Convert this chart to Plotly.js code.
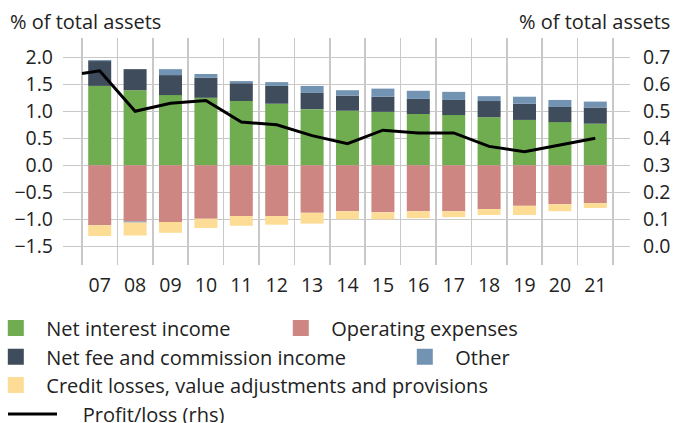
<!DOCTYPE html>
<html>
<head>
<meta charset="utf-8">
<script src="https://cdn.plot.ly/plotly-3.0.1.min.js"></script>
<style>html,body{margin:0;padding:0;background:#fff;}#chart{width:675px;height:423px;}</style>
</head>
<body>
<div id="chart"></div>
<script>
// ---- data ----
const years = [2007, 2008, 2009, 2010, 2011, 2012, 2013, 2014, 2015, 2016, 2017, 2018, 2019, 2020, 2021];
const tickLabels = ["07", "08", "09", "10", "11", "12", "13", "14", "15", "16", "17", "18", "19", "20", "21"];
const netInterest = [1.47, 1.39, 1.30, 1.25, 1.19, 1.14, 1.04, 1.01, 0.99, 0.95, 0.93, 0.89, 0.84, 0.80, 0.77];
const netFee      = [0.46, 0.39, 0.37, 0.37, 0.33, 0.33, 0.30, 0.28, 0.28, 0.28, 0.28, 0.30, 0.30, 0.28, 0.30];
const other       = [0.02, -0.02, 0.11, 0.07, 0.04, 0.07, 0.13, 0.10, 0.15, 0.15, 0.15, 0.09, 0.13, 0.13, 0.11];
const operating   = [-1.11, -1.04, -1.05, -0.99, -0.94, -0.94, -0.88, -0.85, -0.87, -0.85, -0.85, -0.81, -0.75, -0.72, -0.70];
const credit      = [-0.20, -0.24, -0.20, -0.17, -0.18, -0.16, -0.20, -0.15, -0.13, -0.13, -0.11, -0.11, -0.17, -0.13, -0.09];
const profit      = [0.65, 0.50, 0.53, 0.54, 0.46, 0.45, 0.41, 0.38, 0.43, 0.42, 0.42, 0.37, 0.35, 0.375, 0.40];
const profitLead  = 0.64;   // value where the line enters at the left edge of the first year
const leftTicks  = [-1.5, -1.0, -0.5, 0.0, 0.5, 1.0, 1.5, 2.0];
const rightTicks = [0.0, 0.1, 0.2, 0.3, 0.4, 0.5, 0.6, 0.7];

const names = {
  ni: "Net interest income",
  op: "Operating expenses",
  fee: "Net fee and commission income",
  oth: "Other",
  cr: "Credit losses, value adjustments and provisions",
  pl: "Profit/loss (rhs)"
};
const colors = {
  ni: "#70ad51", fee: "#3f4c5b", oth: "#7293b2", op: "#cd8681", cr: "#fddd96", pl: "#000000"
};

const FONT = "Open Sans, sans-serif";
const TXT = "#222222";
const FS = 20;      // legend / titles
const FT = 19.5;    // tick labels

function bar(y, c) {
  return {type: "bar", x: years, y: y, marker: {color: c, line: {width: 0}},
          width: 0.65, showlegend: false, hoverinfo: "skip"};
}
function proxy(name, c, legend, lw) {
  const t = {type: "scatter", mode: "markers", x: [null], y: [null], name: name,
             marker: {symbol: "square", size: 16, color: c, line: {width: 0}},
             legend: legend, showlegend: true, hoverinfo: "skip"};
  if (lw) t.legendwidth = lw;
  return t;
}

const data = [
  bar(netInterest, colors.ni),
  bar(netFee, colors.fee),
  bar(operating, colors.op),
  bar(other, colors.oth),
  bar(credit, colors.cr),
  {type: "scatter", mode: "lines", x: [years[0] - 0.5].concat(years), y: [profitLead].concat(profit),
   yaxis: "y2", line: {color: colors.pl, width: 3}, showlegend: false, hoverinfo: "skip"},
  proxy(names.ni, colors.ni, "legend", 219),
  proxy(names.op, colors.op, "legend"),
  proxy(names.fee, colors.fee, "legend2", 343),
  proxy(names.oth, colors.oth, "legend2"),
  proxy(names.cr, colors.cr, "legend3"),
  {type: "scatter", mode: "lines", x: [null], y: [null], name: "\u00a0\u00a0\u00a0\u00a0" + names.pl,
   line: {color: colors.pl, width: 3}, legend: "legend4", showlegend: true, hoverinfo: "skip"}
];

const W = 675, H = 423, ML = 63, MR = 45, MT = 38, MB = 158;
const PW = W - ML - MR, PH = H - MT - MB;
const px2x = p => (p - ML) / PW;
const py2y = p => (H - MB - p) / PH;

function legendAt(rowTopPx, leftPx, iw) {
  return {orientation: "h", xref: "paper", yref: "paper", x: px2x(leftPx), y: py2y(rowTopPx),
          xanchor: "left", yanchor: "top", bgcolor: "rgba(0,0,0,0)", borderwidth: 0,
          font: {family: FONT, size: FS, color: TXT}, itemwidth: iw, itemclick: false,
          itemdoubleclick: false, tracegroupgap: 0};
}

const layout = {
  width: W, height: H,
  margin: {l: ML, r: MR, t: MT, b: MB, pad: 0, autoexpand: false},
  paper_bgcolor: "#ffffff", plot_bgcolor: "#ffffff",
  font: {family: FONT, size: FS, color: TXT},
  barmode: "relative",
  bargap: 0.35,
  xaxis: {
    type: "linear", range: [years[0] - 1.037, years[0] + 14.98],
    tickmode: "array", tickvals: years, ticktext: tickLabels,
    showgrid: false, zeroline: false, showline: false, ticks: "",
    ticklabelstandoff: 6,
    tickfont: {family: FONT, size: FT, color: TXT},
    minor: {tickmode: "linear", tick0: years[0] - 0.5, dtick: 1, showgrid: true,
            gridcolor: "#c8c8c8", gridwidth: 1.5, ticks: ""},
    fixedrange: true
  },
  yaxis: {
    range: [-1.846, 2.357], tickmode: "array", tickvals: leftTicks, tickformat: ".1f",
    showgrid: true, gridcolor: "#c8c8c8", gridwidth: 1.5, zeroline: false, showline: false,
    ticks: "", ticklabelstandoff: 9,
    tickfont: {family: FONT, size: FT, color: TXT}, fixedrange: true
  },
  yaxis2: {
    overlaying: "y", side: "right", range: [-0.0692, 0.7714],
    tickmode: "array", tickvals: rightTicks, tickformat: ".1f",
    showgrid: false, zeroline: false, showline: false, ticks: "", ticklabelstandoff: 12,
    tickfont: {family: FONT, size: FT, color: TXT}, fixedrange: true
  },
  legend: legendAt(308.5, -14.7, 51),
  legend2: legendAt(337.2, -14.7, 51),
  legend3: legendAt(365.5, -14.7, 51),
  legend4: legendAt(394.5, 3, 49),
  annotations: [
    {text: "% of total assets", xref: "paper", yref: "paper", x: px2x(8), y: py2y(21),
     xanchor: "left", yanchor: "middle", showarrow: false, font: {family: FONT, size: FS, color: TXT}},
    {text: "% of total assets", xref: "paper", yref: "paper", x: px2x(672), y: py2y(21),
     xanchor: "right", yanchor: "middle", showarrow: false, font: {family: FONT, size: FS, color: TXT}}
  ]
};

Plotly.newPlot("chart", data, layout, {displayModeBar: false, staticPlot: true});
</script>
</body>
</html>
